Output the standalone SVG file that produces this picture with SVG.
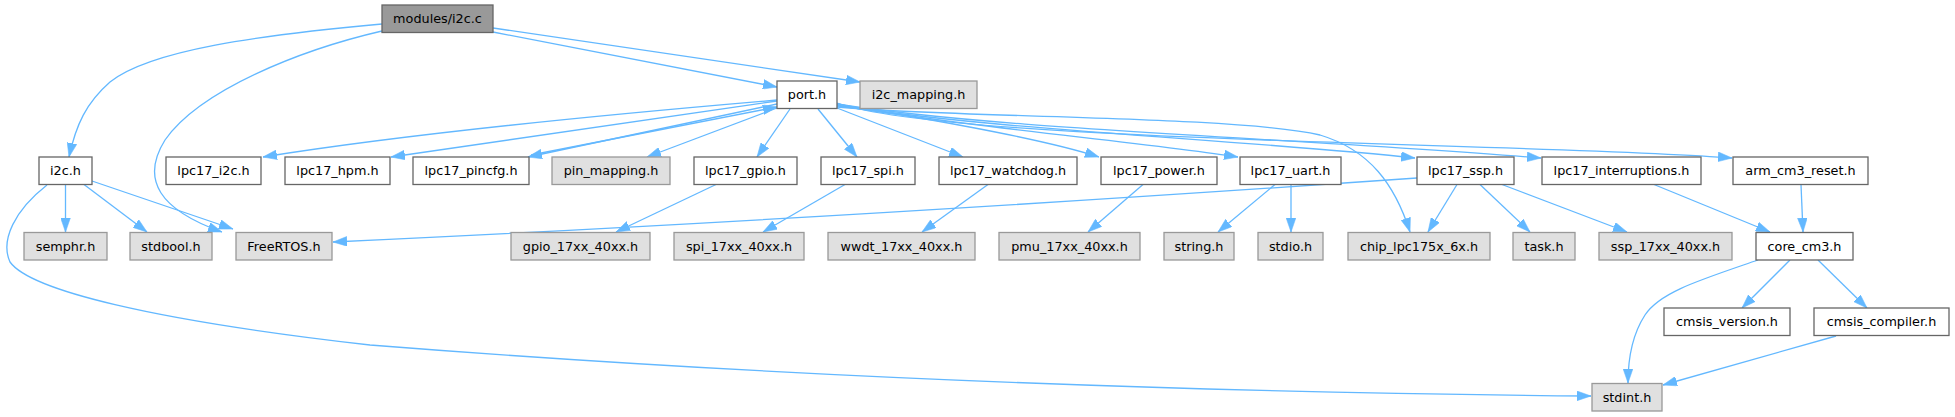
<svg xmlns="http://www.w3.org/2000/svg" width="1955" height="417" viewBox="0 0 1955 417">
<style>
.n rect{fill:#ffffff;stroke:#666666;stroke-width:1.3}
.g rect{fill:#e0e0e0;stroke:#999999;stroke-width:1.3}
.r rect{fill:#999999;stroke:#666666;stroke-width:1.3}
text{font-family:"DejaVu Sans","Liberation Sans",sans-serif;font-size:12.8px;fill:#000000;text-anchor:middle}
.e path{fill:none;stroke:#63b8ff;stroke-width:1.3;marker-end:url(#ah)}
</style>
<defs>
<marker id="ah" markerUnits="userSpaceOnUse" markerWidth="14" markerHeight="10" viewBox="0 0 13 9" refX="13" refY="4.5" orient="auto">
<path d="M0,0 L13,4.5 L0,9 z" fill="#63b8ff" stroke="#63b8ff" stroke-width="0.5"/>
</marker>
</defs>
<rect x="0" y="0" width="1955" height="417" fill="#ffffff"/>
<g id="edges" class="e">
<path d="M382,24 C260,35 150,50 110,82 C86,103 76,125 69,157"/>
<path d="M382,31 C300,50 200,90 165,140 C140,180 160,210 222,232"/>
<path d="M493,32 L777,87"/>
<path d="M493,28 L860,82"/>
<path d="M777,100 C600,115 400,135 263,157"/>
<path d="M777,101 L391,157"/>
<path d="M777,104 L528,157"/>
<path d="M531,155 L777,107"/>
<path d="M777,108 L647,157"/>
<path d="M790,109 L757,157"/>
<path d="M818,109 L857,157"/>
<path d="M837,108 L963,157"/>
<path d="M837,106 C900,113 1040,138 1099,157"/>
<path d="M837,105 C950,125 1150,143 1238,157"/>
<path d="M837,104 C960,128 1250,140 1415,158"/>
<path d="M837,104 C1000,130 1300,138 1541,158"/>
<path d="M837,103 C950,143 1550,143 1732,158"/>
<path d="M837,107 C950,118 1230,115 1320,135 C1370,150 1395,185 1410,232"/>
<path d="M65.5,184.5 L65.5,232"/>
<path d="M84,184.5 L147,232"/>
<path d="M92,181 L233,229"/>
<path d="M47,185 C15,210 0,240 10,262 C30,290 150,320 370,345 C750,375 1150,392 1591,396"/>
<path d="M716,184.5 L616,232"/>
<path d="M845,184.5 L763,232"/>
<path d="M988,184.5 L922,232"/>
<path d="M1143,184.5 L1088,232"/>
<path d="M1275,184.5 L1218,232"/>
<path d="M1291,184.5 L1291,232"/>
<path d="M1417,178 C1100,200 700,225 333,242"/>
<path d="M1457,184.5 L1428,232"/>
<path d="M1480,184.5 L1530,232"/>
<path d="M1502,184.5 L1627,232"/>
<path d="M1654,184.5 L1770,232"/>
<path d="M1801,184.5 L1803,232"/>
<path d="M1758,260 C1700,280 1660,292 1645,315 C1632,335 1628,360 1628,383"/>
<path d="M1790,260 L1742,308"/>
<path d="M1818,260 L1867,308"/>
<path d="M1836,336 L1663,385"/>
</g>
<g id="n_modules_i2c_c" class="r"><rect x="382" y="5" width="111" height="27.5"/><text x="437.5" y="23.3">modules/i2c.c</text></g>
<g id="n_port_h" class="n"><rect x="777" y="81" width="60" height="27.5"/><text x="807" y="99.3">port.h</text></g>
<g id="n_i2c_mapping_h" class="g"><rect x="860" y="81" width="117" height="27.5"/><text x="918.5" y="99.3">i2c_mapping.h</text></g>
<g id="n_i2c_h" class="n"><rect x="39" y="157" width="53" height="27.5"/><text x="65.5" y="175.3">i2c.h</text></g>
<g id="n_lpc17_i2c_h" class="n"><rect x="166" y="157" width="95" height="27.5"/><text x="213.5" y="175.3">lpc17_i2c.h</text></g>
<g id="n_lpc17_hpm_h" class="n"><rect x="285" y="157" width="105" height="27.5"/><text x="337.5" y="175.3">lpc17_hpm.h</text></g>
<g id="n_lpc17_pincfg_h" class="n"><rect x="413" y="157" width="116" height="27.5"/><text x="471" y="175.3">lpc17_pincfg.h</text></g>
<g id="n_pin_mapping_h" class="g"><rect x="552" y="157" width="118" height="27.5"/><text x="611" y="175.3">pin_mapping.h</text></g>
<g id="n_lpc17_gpio_h" class="n"><rect x="694" y="157" width="103" height="27.5"/><text x="745.5" y="175.3">lpc17_gpio.h</text></g>
<g id="n_lpc17_spi_h" class="n"><rect x="821" y="157" width="94" height="27.5"/><text x="868" y="175.3">lpc17_spi.h</text></g>
<g id="n_lpc17_watchdog_h" class="n"><rect x="939" y="157" width="138" height="27.5"/><text x="1008" y="175.3">lpc17_watchdog.h</text></g>
<g id="n_lpc17_power_h" class="n"><rect x="1101" y="157" width="116" height="27.5"/><text x="1159" y="175.3">lpc17_power.h</text></g>
<g id="n_lpc17_uart_h" class="n"><rect x="1240" y="157" width="101" height="27.5"/><text x="1290.5" y="175.3">lpc17_uart.h</text></g>
<g id="n_lpc17_ssp_h" class="n"><rect x="1417" y="157" width="97" height="27.5"/><text x="1465.5" y="175.3">lpc17_ssp.h</text></g>
<g id="n_lpc17_interruptions_h" class="n"><rect x="1542" y="157" width="159" height="27.5"/><text x="1621.5" y="175.3">lpc17_interruptions.h</text></g>
<g id="n_arm_cm3_reset_h" class="n"><rect x="1733" y="157" width="135" height="27.5"/><text x="1800.5" y="175.3">arm_cm3_reset.h</text></g>
<g id="n_semphr_h" class="g"><rect x="24" y="232.5" width="83" height="27.5"/><text x="65.5" y="250.8">semphr.h</text></g>
<g id="n_stdbool_h" class="g"><rect x="130" y="232.5" width="82" height="27.5"/><text x="171" y="250.8">stdbool.h</text></g>
<g id="n_FreeRTOS_h" class="g"><rect x="236" y="232.5" width="96" height="27.5"/><text x="284" y="250.8">FreeRTOS.h</text></g>
<g id="n_gpio_17xx_40xx_h" class="g"><rect x="511" y="232.5" width="139" height="27.5"/><text x="580.5" y="250.8">gpio_17xx_40xx.h</text></g>
<g id="n_spi_17xx_40xx_h" class="g"><rect x="674" y="232.5" width="130" height="27.5"/><text x="739" y="250.8">spi_17xx_40xx.h</text></g>
<g id="n_wwdt_17xx_40xx_h" class="g"><rect x="828" y="232.5" width="147" height="27.5"/><text x="901.5" y="250.8">wwdt_17xx_40xx.h</text></g>
<g id="n_pmu_17xx_40xx_h" class="g"><rect x="999" y="232.5" width="141" height="27.5"/><text x="1069.5" y="250.8">pmu_17xx_40xx.h</text></g>
<g id="n_string_h" class="g"><rect x="1164" y="232.5" width="70" height="27.5"/><text x="1199" y="250.8">string.h</text></g>
<g id="n_stdio_h" class="g"><rect x="1258" y="232.5" width="65" height="27.5"/><text x="1290.5" y="250.8">stdio.h</text></g>
<g id="n_chip_lpc175x_6x_h" class="g"><rect x="1348" y="232.5" width="142" height="27.5"/><text x="1419" y="250.8">chip_lpc175x_6x.h</text></g>
<g id="n_task_h" class="g"><rect x="1513" y="232.5" width="62" height="27.5"/><text x="1544" y="250.8">task.h</text></g>
<g id="n_ssp_17xx_40xx_h" class="g"><rect x="1599" y="232.5" width="133" height="27.5"/><text x="1665.5" y="250.8">ssp_17xx_40xx.h</text></g>
<g id="n_core_cm3_h" class="n"><rect x="1756" y="232.5" width="97" height="27.5"/><text x="1804.5" y="250.8">core_cm3.h</text></g>
<g id="n_cmsis_version_h" class="n"><rect x="1664" y="308" width="126" height="27.5"/><text x="1727" y="326.3">cmsis_version.h</text></g>
<g id="n_cmsis_compiler_h" class="n"><rect x="1814" y="308" width="135" height="27.5"/><text x="1881.5" y="326.3">cmsis_compiler.h</text></g>
<g id="n_stdint_h" class="g"><rect x="1592" y="383.5" width="70" height="27.5"/><text x="1627" y="401.8">stdint.h</text></g>
</svg>
